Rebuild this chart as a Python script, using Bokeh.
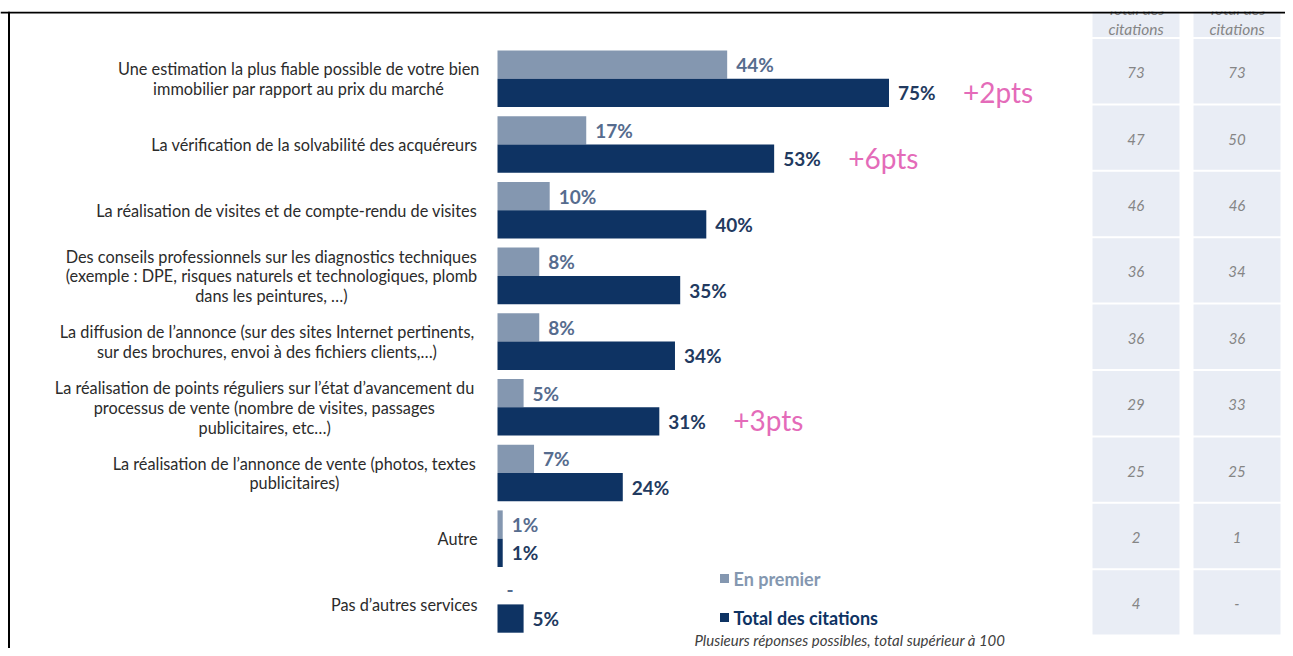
from bokeh.plotting import figure
from bokeh.models import Range1d, Span, Spacer
from bokeh.layouts import column
from bokeh.core.properties import value
from bokeh.embed import file_html
from bokeh.resources import INLINE

# ---------------- data ----------------
categories = [
    "Une estimation la plus fiable possible de votre bien\nimmobilier par rapport au prix du marché",
    "La vérification de la solvabilité des acquéreurs",
    "La réalisation de visites et de compte-rendu de visites",
    "Des conseils professionnels sur les diagnostics techniques\n(exemple : DPE, risques naturels et technologiques, plomb\ndans les peintures, …)",
    "La diffusion de l’annonce (sur des sites Internet pertinents,\nsur des brochures, envoi à des fichiers clients,…)",
    "La réalisation de points réguliers sur l’état d’avancement du\nprocessus de vente (nombre de visites, passages\npublicitaires, etc…)",
    "La réalisation de l’annonce de vente (photos, textes\npublicitaires)",
    "Autre",
    "Pas d’autres services",
]
en_premier = [44, 17, 10, 8, 8, 5, 7, 1, 0]
total_citations = [75, 53, 40, 35, 34, 31, 24, 1, 5]
evolution = ["+2pts", "+6pts", "", "", "", "+3pts", "", "", ""]
table_col1 = ["73", "47", "46", "36", "36", "29", "25", "2", "4"]
table_col2 = ["73", "50", "46", "34", "36", "33", "25", "1", "-"]
table_header = ["Total des", "citations"]
legend_labels = ["En premier", "Total des citations"]
footnote = "Plusieurs réponses possibles, total supérieur à 100"

# ---------------- styles ----------------
LIGHT = "#8497b0"
DARK = "#0e3363"
LIGHT_TXT = "#566c8e"
DARK_TXT = "#223a5f"
PINK = "#e46bb9"
CELL = "#e9edf5"
GRAY_TXT = "#858585"
LABEL = "#2b2b2b"
FONT = "Lato"

# ---------------- layout (picture pixels -> data units) ----------------
FIG_W, TOTAL_H = 1285, 648
TOP_CROP = 11                      # the picture is cropped at its top rule
FIG_H = TOTAL_H - TOP_CROP
ZERO_PX, PX_PER_PCT = 497.0, 5.22
ROW0_PX, PX_PER_ROW = 78.3, 65.7


def fx(px):
    return (px - ZERO_PX) / PX_PER_PCT


def fy(py):
    return (py - ROW0_PX) / PX_PER_ROW


# rough Lato regular widths (em) to centre multi-line labels
_W = {c: 0.52 for c in "abcdeghknopqsuvxyzàâéèêôûç"}
_W.update({"f": 0.32, "i": 0.24, "j": 0.24, "l": 0.24, "m": 0.84, "r": 0.37,
           "t": 0.35, "w": 0.77, "s": 0.43, " ": 0.20, ",": 0.22, ".": 0.22,
           ":": 0.22, "’": 0.22, "(": 0.30, ")": 0.30, "-": 0.33, "…": 0.75})


def text_w(s, size):
    return 1.035 * sum(_W.get(c, 0.64 if c.isupper() else 0.55) for c in s) * size


LABEL_SIZE = 16.3
p = figure(width=FIG_W, height=FIG_H, output_backend="svg", toolbar_location=None,
           x_range=Range1d(fx(0), fx(FIG_W)), y_range=Range1d(fy(TOTAL_H), fy(TOP_CROP)),
           x_axis_type=None, y_axis_type=None,
           min_border_left=0, min_border_right=0, min_border_top=0, min_border_bottom=0)
p.grid.visible = False
p.outline_line_color = None
p.background_fill_color = "white"
p.border_fill_color = "white"

n = len(categories)
ys = list(range(n))
bh = 28.3 / PX_PER_ROW

# bars
p.hbar(y=[y - bh / 2 for y in ys], left=0, right=en_premier, height=bh,
       fill_color=LIGHT, line_color=None)
p.hbar(y=[y + bh / 2 for y in ys], left=0, right=total_citations, height=bh,
       fill_color=DARK, line_color=None)

# value labels
p.text(x=en_premier, y=[y - bh / 2 for y in ys],
       text=[f"{v}%" if v > 0 else "-" for v in en_premier],
       x_offset=9, text_baseline="middle", text_align="left",
       text_font=value(FONT), text_font_style="bold", text_font_size="19px",
       text_color=LIGHT_TXT)
p.text(x=total_citations, y=[y + bh / 2 for y in ys],
       text=[f"{v}%" for v in total_citations],
       x_offset=9, text_baseline="middle", text_align="left",
       text_font=value(FONT), text_font_style="bold", text_font_size="19px",
       text_color=DARK_TXT)

# evolution annotations
ev_idx = [i for i, e in enumerate(evolution) if e]
p.text(x=[total_citations[i] for i in ev_idx], y=[i + bh / 2 for i in ev_idx],
       text=[evolution[i] for i in ev_idx], x_offset=74, y_offset=-1,
       text_baseline="middle", text_align="left",
       text_font=value(FONT), text_font_size="28px", text_color=PINK)

# category labels (block right-aligned, lines centred)
RIGHT_PX = 477
LH = 19.8 / PX_PER_ROW
lx, ly, lt, la = [], [], [], []
for i, cat in enumerate(categories):
    lines = cat.split("\n")
    k = len(lines)
    if k == 1:
        lx.append(fx(RIGHT_PX)); ly.append(i); lt.append(lines[0]); la.append("right")
        continue
    wmax = max(text_w(s, LABEL_SIZE) for s in lines)
    cx = fx(RIGHT_PX - wmax / 2)
    for j, s in enumerate(lines):
        lx.append(cx); ly.append(i + (j - (k - 1) / 2) * LH); lt.append(s); la.append("center")
p.text(x=lx, y=ly, text=lt, text_align=la, text_baseline="middle",
       text_font=value(FONT), text_font_size=f"{LABEL_SIZE}px", text_color=LABEL)

# side table
cols_px = [(1092, 1179), (1193, 1280)]
ROW_TOP, ROW_H = 37.0, 66.4
for (x0, x1), col in zip(cols_px, [table_col1, table_col2]):
    tops = [fy(0)] + [fy(ROW_TOP + ROW_H * r + 1.5) for r in range(n)]
    bottoms = [fy(ROW_TOP - 0.5)] + [fy(ROW_TOP + ROW_H * (r + 1) - 0.5) for r in range(n)]
    p.quad(left=fx(x0), right=fx(x1), top=tops, bottom=bottoms,
           fill_color=CELL, line_color=None)
    cx = fx((x0 + x1) / 2)
    p.text(x=[cx] * n, y=[fy(ROW_TOP + ROW_H * (r + 0.5) + 2) for r in range(n)], text=col,
           text_align="center", text_baseline="middle", text_font=value(FONT),
           text_font_style="italic", text_font_size="15px", text_color=GRAY_TXT)
    p.text(x=[cx, cx], y=[fy(8), fy(28)], text=table_header,
           text_align="center", text_baseline="middle", text_font=value(FONT),
           text_font_style="italic", text_font_size="15.5px", text_color=GRAY_TXT)

# legend
leg_y = [fy(578), fy(617)]
p.scatter(x=[fx(724)] * 2, y=leg_y, marker="square", size=9,
          fill_color=[LIGHT, DARK], line_color=None)
p.text(x=[fx(733)] * 2, y=leg_y, text=legend_labels, text_align="left",
       text_baseline="middle", text_font=value(FONT), text_font_style="bold",
       text_font_size="18px", text_color=[LIGHT, DARK])

# footnote
p.text(x=[fx(694)], y=[fy(639)], text=[footnote], text_align="left",
       text_baseline="middle", text_font=value(FONT), text_font_style="italic",
       text_font_size="15px", text_color="#404040")

# frame rules (top and left)
p.add_layout(Span(location=fx(8.5), dimension="height", line_color="black", line_width=2))
p.add_layout(Span(location=fy(12), dimension="width", line_color="black", line_width=2))

layout = column(Spacer(width=FIG_W, height=TOP_CROP), p, spacing=0)
open("out.html", "w").write(file_html(layout, INLINE))
